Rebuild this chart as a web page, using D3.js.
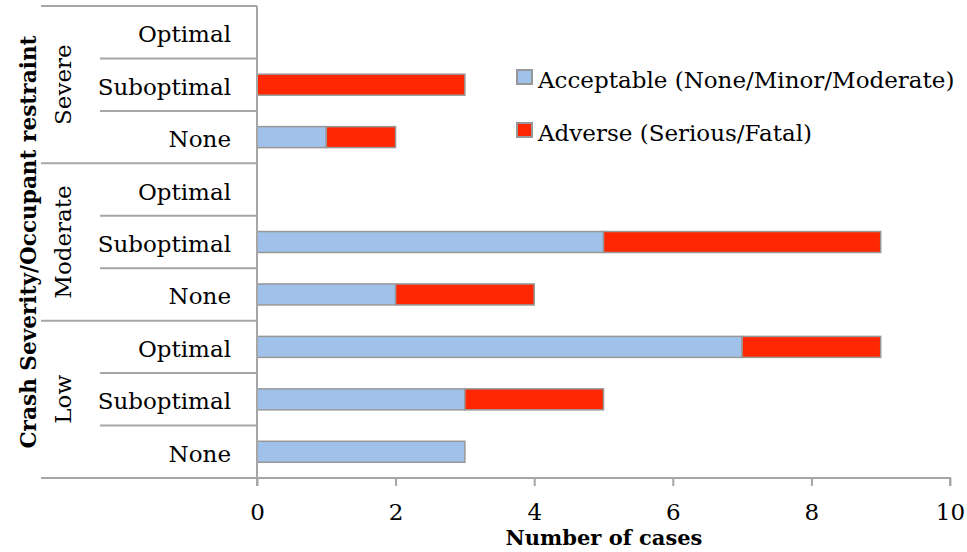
<!DOCTYPE html>
<html>
<head>
<meta charset="utf-8">
<script src="https://cdn.jsdelivr.net/npm/d3@7"></script>
<style>
  html, body { margin: 0; padding: 0; background: #fff; }
  svg { display: block; font-family: "DejaVu Serif", serif; }
</style>
</head>
<body>
<svg id="chart" width="967" height="552"></svg>
<script>
// Crash severity groups and restraint categories, top to bottom
const groups = ["Severe", "Moderate", "Low"];
const restraints = ["Optimal", "Suboptimal", "None"];

// Case counts per group, in the order of `restraints`
const acceptable = {
  Severe:   [0, 0, 1],
  Moderate: [0, 5, 2],
  Low:      [7, 3, 3]
};
const adverse = {
  Severe:   [0, 3, 1],
  Moderate: [0, 4, 2],
  Low:      [2, 2, 0]
};

const seriesNames = ["Acceptable (None/Minor/Moderate)", "Adverse (Serious/Fatal)"];
const xTicks = [0, 2, 4, 6, 8, 10];

const colors = ["#a0c2ea", "#ff2600"];
const gridGrey = "#a6a6a6";

// Flatten into rows
const rows = [];
groups.forEach(g => restraints.forEach((r, i) => {
  rows.push({ key: g + "|" + r, group: g, restraint: r, values: [acceptable[g][i], adverse[g][i]] });
}));

const svg = d3.select("#chart");
const plotLeft = 257, plotRight = 950, plotTop = 6, plotBottom = 478;

const x = d3.scaleLinear().domain([0, 10]).range([plotLeft, plotRight]);
const yRow = d3.scaleBand().domain(rows.map(d => d.key)).range([plotTop, plotBottom]).padding(0);
const yBar = d3.scaleBand().domain(rows.map(d => d.key)).range([plotTop, plotBottom]).paddingInner(0.6).paddingOuter(0.3);

// Stacked bars
const stack = d3.stack().keys([0, 1]).value((d, k) => d.values[k]);
const layers = stack(rows);

svg.append("g").selectAll("g")
  .data(layers)
  .join("g")
  .attr("fill", (d, i) => colors[i])
  .selectAll("rect")
  .data(d => d.filter(s => s[1] - s[0] > 0))
  .join("rect")
  .attr("x", d => x(d[0]))
  .attr("width", d => x(d[1]) - x(d[0]))
  .attr("y", d => yBar(d.data.key))
  .attr("height", yBar.bandwidth())
  .attr("stroke", "#989898")
  .attr("stroke-width", 1.5);

// X axis
const xAxis = d3.axisBottom(x).tickValues(xTicks).tickSize(8).tickPadding(18).tickFormat(d3.format("d"));
const gx = svg.append("g").attr("transform", `translate(0,${plotBottom})`).call(xAxis);
gx.select(".domain").attr("stroke", gridGrey).attr("stroke-width", 2).attr("d", `M${plotLeft},8V0H${plotRight}V8`);
gx.selectAll(".tick line").attr("stroke", gridGrey).attr("stroke-width", 2);
gx.selectAll(".tick text").attr("font-size", 23).attr("fill", "#000").attr("font-family", "DejaVu Serif, serif");

// Y axis line
svg.append("line")
  .attr("x1", plotLeft).attr("x2", plotLeft).attr("y1", plotTop).attr("y2", plotBottom)
  .attr("stroke", gridGrey).attr("stroke-width", 2);

// Category separator lines (multi-level axis)
const boundaries = rows.map((d, i) => ({ y: yRow(d.key), groupStart: i % restraints.length === 0 }));
boundaries.push({ y: plotBottom, groupStart: true });
svg.append("g").selectAll("line")
  .data(boundaries)
  .join("line")
  .attr("x1", d => d.groupStart ? 41 : 100)
  .attr("x2", plotLeft)
  .attr("y1", d => d.y).attr("y2", d => d.y)
  .attr("stroke", gridGrey).attr("stroke-width", 2);

// Restraint labels
svg.append("g").selectAll("text")
  .data(rows)
  .join("text")
  .attr("x", 231)
  .attr("y", d => yRow(d.key) + yRow.bandwidth() / 2 + 10)
  .attr("text-anchor", "end")
  .attr("font-size", 23)
  .text(d => d.restraint);

// Group labels (rotated)
svg.append("g").selectAll("text")
  .data(groups)
  .join("text")
  .attr("transform", g => {
    const y0 = yRow(g + "|" + restraints[0]);
    const y1 = yRow(g + "|" + restraints[restraints.length - 1]) + yRow.bandwidth();
    return `translate(71,${(y0 + y1) / 2}) rotate(-90)`;
  })
  .attr("text-anchor", "middle")
  .attr("font-size", 23)
  .text(g => g);

// Axis titles
svg.append("text")
  .attr("transform", `translate(36,${(plotTop + plotBottom) / 2}) rotate(-90)`)
  .attr("text-anchor", "middle")
  .attr("font-size", 21.6)
  .attr("font-weight", "bold")
  .text("Crash Severity/Occupant restraint");

svg.append("text")
  .attr("x", 604).attr("y", 545)
  .attr("text-anchor", "middle")
  .attr("font-size", 21)
  .attr("font-weight", "bold")
  .text("Number of cases");

// Legend
const legend = svg.append("g").selectAll("g")
  .data(seriesNames)
  .join("g")
  .attr("transform", (d, i) => `translate(517,${70 + i * 53})`);
legend.append("rect")
  .attr("width", 15).attr("height", 14)
  .attr("fill", (d, i) => colors[i])
  .attr("stroke", "#989898").attr("stroke-width", 2);
legend.append("text")
  .attr("x", 21).attr("y", 18)
  .attr("font-size", 23)
  .text(d => d);
</script>
</body>
</html>
